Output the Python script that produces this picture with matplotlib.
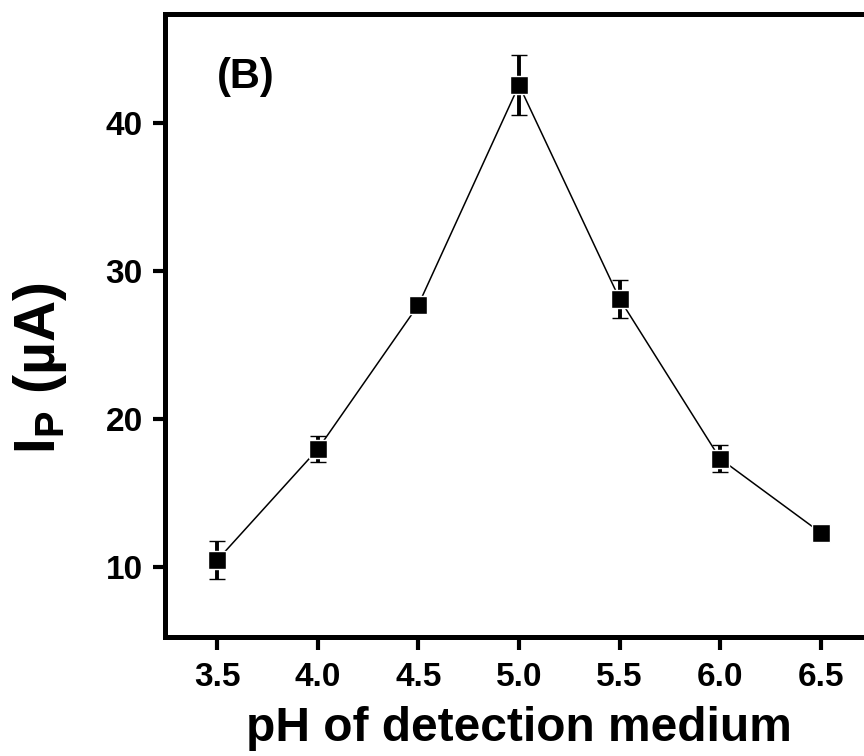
import matplotlib
matplotlib.use('Agg')
import matplotlib.pyplot as plt

# pH of detection medium vs peak current
ph = [3.5, 4.0, 4.5, 5.0, 5.5, 6.0, 6.5]
ip = [10.5, 18.0, 27.75, 42.6, 28.15, 17.35, 12.35]
ip_err = [1.3, 0.85, 0.55, 2.0, 1.3, 0.9, 0.5]

x_ticks = [3.5, 4.0, 4.5, 5.0, 5.5, 6.0, 6.5]
y_ticks = [10, 20, 30, 40]

plt.rcParams['font.family'] = 'Liberation Sans'
plt.rcParams['font.weight'] = 'bold'
plt.rcParams['mathtext.fontset'] = 'custom'
plt.rcParams['mathtext.rm'] = 'Liberation Sans:bold'
plt.rcParams['mathtext.bf'] = 'Liberation Sans:bold'
plt.rcParams['mathtext.it'] = 'Liberation Sans:bold'

fig = plt.figure(figsize=(8.64, 7.56), dpi=100)
# axes runs a little past the right edge, like the cropped original
ax = fig.add_axes([0.191, 0.1574, 0.8194, 0.8241])

ax.errorbar(ph, ip, yerr=ip_err, color='black', lw=1.1, marker='s', ms=13,
            mfc='black', mec='white', mew=1.0, ecolor='black', elinewidth=2.8,
            capsize=5.5, capthick=3.2)

ax.set_xlim(3.24, 6.76)
ax.set_ylim(5.3, 47.4)
ax.set_xticks(x_ticks)
ax.set_xticklabels(['%.1f' % v for v in x_ticks])
ax.set_yticks(y_ticks)

for s in ax.spines.values():
    s.set_linewidth(3.6)
ax.tick_params(axis='both', direction='out', length=9, width=3, labelsize=24)
ax.tick_params(axis='x', pad=9)
ax.tick_params(axis='y', pad=7)

ax.set_xlabel('pH of detection medium', fontsize=34.5, fontweight='bold', labelpad=9)
fig.text(40 / 864, 1 - 368 / 756, r'I$_{\mathrm{P}}$ (µA)', rotation=90,
         ha='center', va='center', fontsize=41, fontweight='bold')

ax.text(217 / 864, 1 - 77 / 756, '(B)', transform=fig.transFigure,
        ha='left', va='center', fontsize=30, fontweight='bold')

fig.savefig('out.png', dpi=100)
